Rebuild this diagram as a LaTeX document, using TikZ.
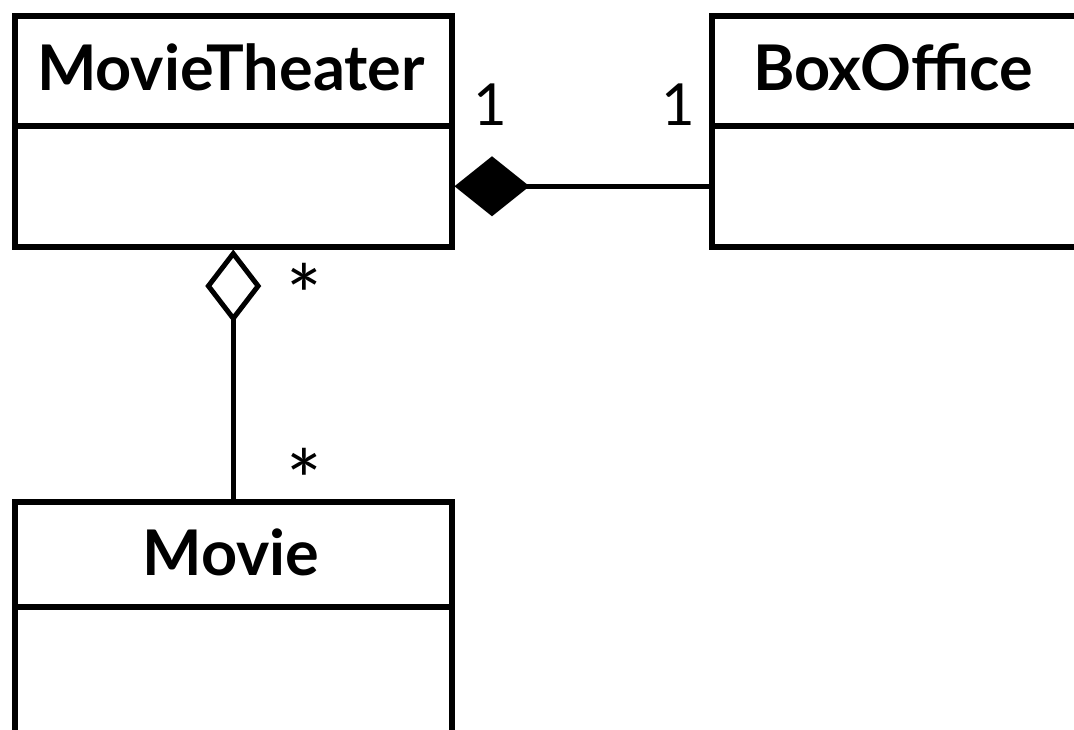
\documentclass[tikz,border=0pt]{standalone}
\usepackage{fontspec}
\setmainfont{Lato}
\usetikzlibrary{arrows.meta}
\begin{document}
\begin{tikzpicture}[x=1pt,y=-1pt,
  compartment/.style={draw, line width=5.5pt, rectangle, inner sep=0pt,
    minimum width=437pt, anchor=north west},
  head/.style={compartment, minimum height=110pt},
  body/.style={compartment, minimum height=121pt},
  classname/.style={anchor=base, inner sep=0pt, font=\fontsize{63}{65}\selectfont\bfseries},
  mult/.style={anchor=base, inner sep=0pt, font=\fontsize{58}{60}\selectfont},
  star/.style={anchor=base, inner sep=0pt, font=\fontsize{84}{86}\selectfont},
  composition/.style={line width=5pt, -{Diamond[length=75pt,width=60pt]}},
  aggregation/.style={line width=5pt, -{Diamond[open,length=73pt,width=56pt]}}]
\useasboundingbox (0,0) rectangle (1074,729);

% MovieTheater class
\node[head] (mtHead) at (12,13) {};
\node[body] (mtBody) at (12,123) {};
\node[classname] (mtName) at (231,90) {MovieTheater};

% BoxOffice class
\node[head] (boHead) at (709,13) {};
\node[body] (boBody) at (709,123) {};
\node[classname] (boName) at (893,90) {BoxOffice};

% Movie class
\node[head, minimum height=105pt] (mvHead) at (12,499) {};
\node[body, minimum height=140pt] (mvBody) at (12,604) {};
\node[classname] (mvName) at (231,575) {Movie};

% associations
\draw[composition] (boBody.west) -- (mtBody.east);
\draw[aggregation] (mvHead.north) -- (mtBody.south);

% multiplicities
\node[mult] (m1) at (490,125) {1};
\node[mult] (m2) at (678,125) {1};
\node[star] (m3) at (304,326) {*};
\node[star] (m4) at (304,511) {*};
\end{tikzpicture}
\end{document}
